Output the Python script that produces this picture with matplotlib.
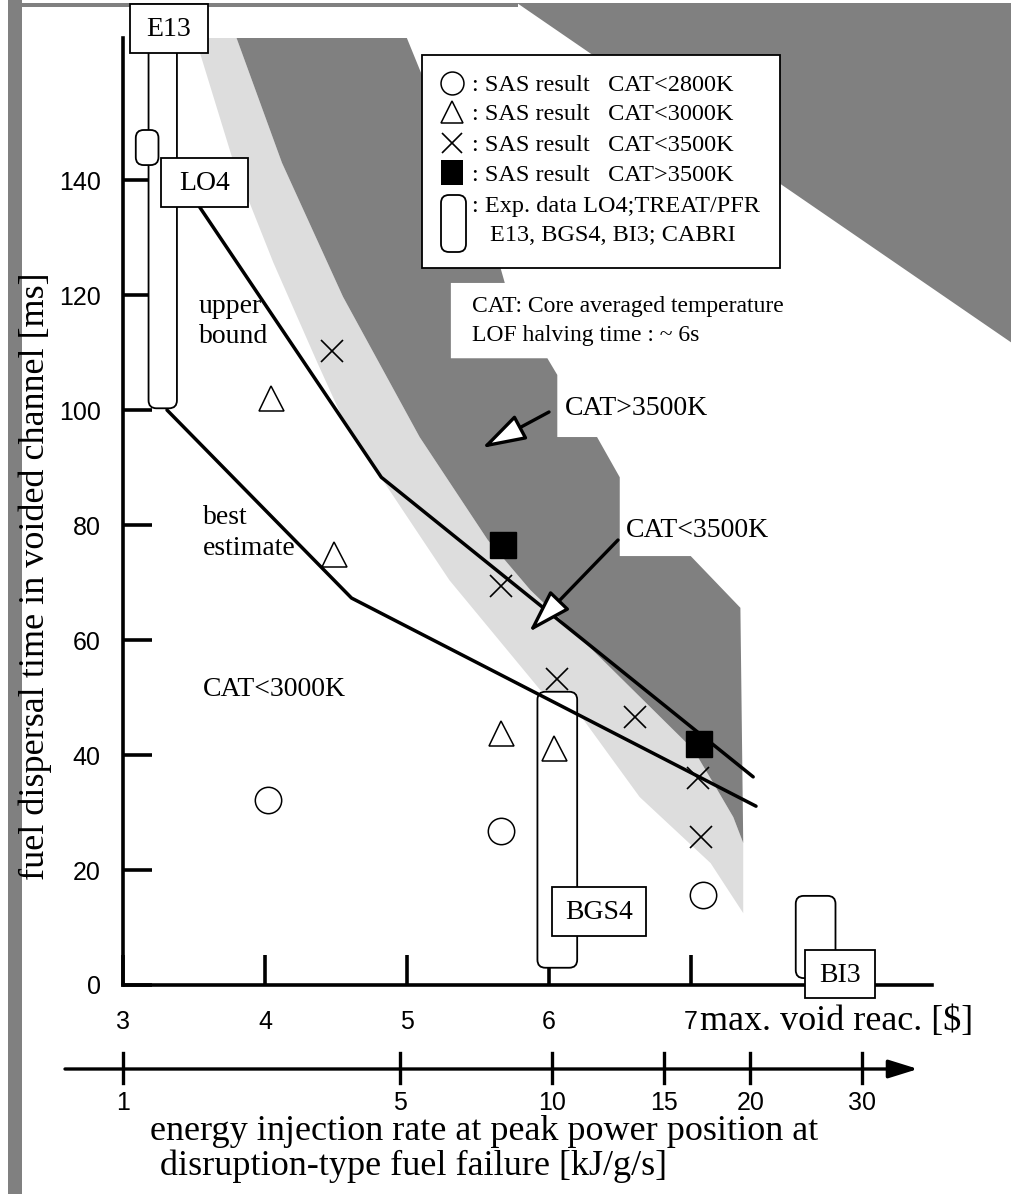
import matplotlib
matplotlib.use("Agg")
import matplotlib.pyplot as plt
from matplotlib.patches import Polygon, Rectangle, FancyBboxPatch, FancyArrowPatch
from matplotlib.lines import Line2D
from matplotlib.transforms import Affine2D, blended_transform_factory

plt.rcParams['font.family'] = 'sans-serif'
plt.rcParams['font.sans-serif'] = ['Liberation Sans']
SERIF = 'Liberation Serif'

# x: max. void reactivity [$], y: fuel dispersal time [ms]
circle_x = [4.02, 5.66, 7.09]
circle_y = [32.2, 26.8, 15.7]
tri_x = [4.04, 4.49, 5.66, 6.04]
tri_y = [102.1, 75.0, 43.8, 41.2]
cross_x = [4.47, 5.66, 6.06, 6.61, 7.05, 7.07]
cross_y = [110.3, 69.4, 53.2, 46.6, 36.0, 25.7]
square_x = [5.68, 7.06]
square_y = [76.5, 41.9]

upper_x = [3.54, 4.82, 7.44]
upper_y = [135.3, 88.3, 36.2]
best_x = [3.31, 4.61, 7.46]
best_y = [100.0, 67.3, 31.1]

# experimental data ranges (rounded boxes)
exp_names = ["E13", "LO4", "BGS4", "BI3"]
exp_x0 = [3.18, 3.09, 5.92, 7.74]
exp_x1 = [3.38, 3.25, 6.20, 8.02]
exp_y0 = [100.3, 142.6, 3.0, 1.2]
exp_y1 = [165.0, 148.7, 51.0, 15.5]

# CAT>3500K region and transition band
dark_x = [3.80, 5.00, 5.66, 5.69, 5.31, 5.31, 5.99, 6.06, 6.06, 6.34, 6.50, 6.50, 7.00, 7.35, 7.37,
          7.30, 7.16, 7.02, 6.36, 5.87, 5.57, 5.09, 4.55, 4.12]
dark_y = [164.7, 164.7, 124.7, 122.1, 122.1, 109.0, 109.0, 106.1, 95.3, 95.3, 88.3, 74.6, 74.6, 65.6, 24.7,
          29.2, 35.1, 40.9, 57.0, 68.7, 77.4, 95.3, 119.7, 143.0]
light_x = [3.51, 3.78, 4.06, 4.37, 4.53, 4.83, 5.30, 5.94, 6.21, 6.64, 7.14, 7.37, 7.37,
           7.30, 7.16, 7.02, 6.36, 5.87, 5.57, 5.09, 4.55, 4.12, 3.80]
light_y = [164.7, 143.0, 125.6, 108.2, 99.5, 87.8, 70.4, 51.3, 47.3, 32.7, 21.2, 12.5, 24.7,
           29.2, 35.1, 40.9, 57.0, 68.7, 77.4, 95.3, 119.7, 143.0, 164.7]

# second scale: energy injection rate [kJ/g/s] vs void reactivity position
energy_ticks = [1, 5, 10, 15, 20, 30]
energy_pos = [3.00, 4.95, 6.02, 6.81, 7.42, 8.21]

W, H = 1012, 1194
fig = plt.figure(figsize=(W / 100, H / 100), dpi=100)
ax = fig.add_axes([123 / W, 1 - 985 / H, (932 - 123) / W, (985 - 38) / H])
ax.set_facecolor('none')

# pixel transform, origin top-left (for layout only)
pxT = Affine2D().scale(1, -1).translate(0, H)
btr = blended_transform_factory(ax.transData, pxT)

# page decorations
fig.add_artist(Rectangle((8, 0), 14, H, transform=pxT, fc='#808080', ec='none', zorder=-1))
fig.add_artist(Rectangle((8, 3), 510, 4, transform=pxT, fc='#808080', ec='none', zorder=-1))
fig.add_artist(Polygon([(517, 3), (W, 3), (W, 343)], closed=True, transform=pxT,
                       fc='#808080', ec='none', zorder=-1))

# regions
ax.add_patch(Polygon(list(zip(light_x, light_y)), closed=True, fc='#dddddd', ec='none', zorder=1))
ax.add_patch(Polygon(list(zip(dark_x, dark_y)), closed=True, fc='#808080', ec='none', zorder=1.5))

# experimental boxes (aspect keeps the corners round in pixels)
aspect = ((932 - 123) / 5.7) / ((985 - 38) / 164.7)
for i in range(len(exp_names)):
    box = FancyBboxPatch((exp_x0[i], exp_y0[i]), exp_x1[i] - exp_x0[i], exp_y1[i] - exp_y0[i],
                         boxstyle="round,pad=0,rounding_size=0.056", mutation_aspect=aspect,
                         fc='white', ec='k', lw=1.3, zorder=3 + 0.1 * i, clip_on=False)
    ax.add_patch(box)

# curves
ax.plot(upper_x, upper_y, color='k', lw=2.5, zorder=4, solid_capstyle='round')
ax.plot(best_x, best_y, color='k', lw=2.5, zorder=4, solid_capstyle='round')

# SAS results
ax.plot(circle_x, circle_y, 'o', ms=19, mfc='none', mec='k', mew=1.1, zorder=6)
ax.plot(tri_x, tri_y, '^', ms=18, mfc='none', mec='k', mew=1.1, zorder=6)
ax.plot(cross_x, cross_y, 'x', ms=16, mec='k', mew=1.2, zorder=6)
ax.plot(square_x, square_y, 's', ms=18.5, color='k', zorder=6)

# axes
ax.set_xlim(3, 8.7)
ax.set_ylim(0, 164.7)
for s in ['top', 'right']:
    ax.spines[s].set_visible(False)
for s in ['left', 'bottom']:
    ax.spines[s].set_linewidth(2.6)
ax.set_yticks(range(0, 141, 20))
ax.set_xticks([3, 4, 5, 6, 7])
ax.tick_params(axis='y', direction='in', length=21, width=2.6, pad=16, labelsize=18)
ax.tick_params(axis='x', direction='in', length=21.6, width=2.6, pad=18, labelsize=18)

# second scale
fig.add_artist(FancyArrowPatch((65, 1069), (918, 1069), transform=pxT,
                               arrowstyle='-|>,head_length=0.9,head_width=0.28', mutation_scale=20,
                               fc='k', ec='k', lw=2.4, shrinkA=0, shrinkB=0))
for t, p in zip(energy_ticks, energy_pos):
    fig.add_artist(Line2D([p, p], [1053, 1083], transform=btr, color='k', lw=2.4))
    fig.text(p, 1103, str(t), transform=btr, ha='center', va='center', fontsize=18)

# label boxes for experiments
label_boxes = {"E13": (130, 4, 78, 49), "LO4": (161, 158, 87, 49),
               "BGS4": (552, 887, 94, 49), "BI3": (805, 950, 70, 48)}
for name in exp_names:
    bx, by, bw, bh = label_boxes[name]
    fig.add_artist(Rectangle((bx, by), bw, bh, transform=pxT, fc='white', ec='k', lw=1.3, zorder=5))
    fig.text(bx + bw / 2, by + bh / 2 + 1, name, transform=pxT, ha='center', va='center',
             fontfamily=SERIF, fontsize=20, zorder=6)

# legend
fig.add_artist(Rectangle((422, 55), 358, 213, transform=pxT, fc='white', ec='k', lw=1.3, zorder=5))
fig.add_artist(Line2D([452], [83], transform=pxT, marker='o', ms=16.5, mfc='white', mec='k', mew=1.1, zorder=6))
fig.add_artist(Line2D([452], [112], transform=pxT, marker='^', ms=16, mfc='white', mec='k', mew=1.1, zorder=6))
fig.add_artist(Line2D([452], [143], transform=pxT, marker='x', ms=14.5, mec='k', mew=1.2, zorder=6))
fig.add_artist(Rectangle((441, 160), 22, 25, transform=pxT, fc='k', ec='none', zorder=6))
fig.add_artist(FancyBboxPatch((441, 195), 25, 57, boxstyle="round,pad=0,rounding_size=8", transform=pxT,
                              fc='white', ec='k', lw=1.3, zorder=6))
leg_lines = [": SAS result   CAT<2800K", ": SAS result   CAT<3000K", ": SAS result   CAT<3500K",
             ": SAS result   CAT>3500K", ": Exp. data LO4;TREAT/PFR"]
for i, s in enumerate(leg_lines):
    fig.text(472, [91, 120, 151, 181, 212][i], s, transform=pxT, fontfamily=SERIF, fontsize=17.5,
             va='baseline', zorder=6)
fig.text(490, 241, "E13, BGS4, BI3; CABRI", transform=pxT, fontfamily=SERIF, fontsize=17.5,
         va='baseline', zorder=6)

# notes in the plot
fig.text(472, 312, "CAT: Core averaged temperature", transform=pxT, fontfamily=SERIF, fontsize=17, va='baseline')
fig.text(472, 341, "LOF halving time : ~ 6s", transform=pxT, fontfamily=SERIF, fontsize=17, va='baseline')
for s, x, y in [("upper", 199, 313), ("bound", 199, 343), ("best", 203, 524), ("estimate", 203, 555),
                ("CAT<3000K", 203, 696), ("CAT>3500K", 565, 415), ("CAT<3500K", 626, 537)]:
    fig.text(x, y, s, transform=pxT, fontfamily=SERIF, fontsize=20, va='baseline')

# hollow arrows
for a, b in [((549, 412), (482, 448)), ((618, 540), (529, 632))]:
    fig.add_artist(FancyArrowPatch(a, b, transform=pxT, arrowstyle='-|>,head_length=1.35,head_width=0.42',
                                   mutation_scale=20, fc='white', ec='k', lw=2.4, shrinkA=0, shrinkB=0,
                                   zorder=6))

# axis titles
fig.text(35, 576, "fuel dispersal time in voided channel [ms]", transform=pxT, rotation=90,
         ha='center', va='center', fontfamily=SERIF, fontsize=26)
fig.text(700, 1030, "max. void reac. [$]", transform=pxT, fontfamily=SERIF, fontsize=26,
         va='baseline', parse_math=False)
fig.text(150, 1140, "energy injection rate at peak power position at", transform=pxT,
         fontfamily=SERIF, fontsize=26, va='baseline')
fig.text(160, 1175, "disruption-type fuel failure [kJ/g/s]", transform=pxT,
         fontfamily=SERIF, fontsize=26, va='baseline')

fig.savefig("out.png", dpi=100)
